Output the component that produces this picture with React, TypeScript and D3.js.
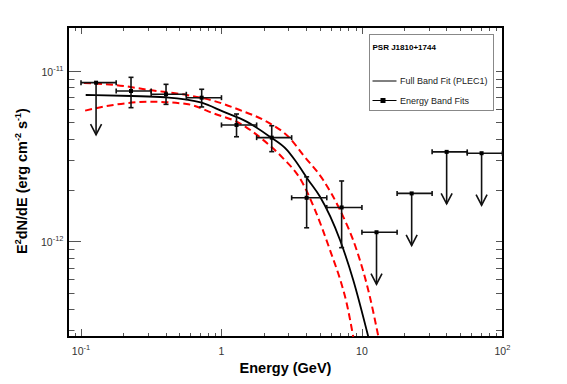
import React, { useEffect, useRef } from "react";
import * as d3 from "d3";

// energy band fits: bin centre, bin edges (GeV), flux and 1 sigma range (erg cm^-2 s^-1)
const bandEnergy = [0.227, 0.403, 0.723, 1.28, 2.28, 4.04, 7.17];
const bandEmin = [0.178, 0.316, 0.562, 1.0, 1.78, 3.16, 5.62];
const bandEmax = [0.316, 0.562, 1.0, 1.78, 3.16, 5.62, 10.0];
const bandFlux = [7.63e-12, 7.3e-12, 6.97e-12, 4.82e-12, 4.06e-12, 1.8e-12, 1.58e-12];
const bandFluxHi = [9.18e-12, 8.35e-12, 7.81e-12, 5.59e-12, 4.77e-12, 2.39e-12, 2.26e-12];
const bandFluxLo = [6.09e-12, 6.37e-12, 6.15e-12, 4.11e-12, 3.36e-12, 1.2e-12, 9.17e-13];

// upper limits
const ulEnergy = [0.128, 12.7, 22.6, 40.1, 71.1];
const ulEmin = [0.1, 10.0, 17.8, 31.6, 56.2];
const ulEmax = [0.178, 17.8, 31.6, 56.2, 100.0];
const ulFlux = [8.54e-12, 1.13e-12, 1.91e-12, 3.35e-12, 3.29e-12];

// full band fit (PLEC1)
const plecEnergy = [0.108, 0.23, 0.396, 0.723, 1.03, 1.51, 2.21, 2.91, 3.33, 4.15, 5.02, 6.97, 8.67, 11.1];
const plecFlux = [7.23e-12, 7.13e-12, 7.01e-12, 6.52e-12, 5.77e-12, 5.04e-12, 4.11e-12, 3.45e-12, 3.0e-12, 2.29e-12, 1.83e-12, 1.02e-12, 5.93e-13, 2.75e-13];

// upper / lower error contour of the fit
const plecHiEnergy = [0.105, 0.175, 0.31, 0.565, 0.874, 1.35, 2.1, 3.07, 3.82, 5.3, 6.97, 9.17, 11.31, 13.1];
const plecHiFlux = [8.5e-12, 8.28e-12, 7.73e-12, 7.23e-12, 6.69e-12, 5.9e-12, 5.04e-12, 4.03e-12, 3.21e-12, 2.29e-12, 1.53e-12, 8.89e-13, 4.84e-13, 2.75e-13];
const plecLoEnergy = [0.107, 0.17, 0.31, 0.565, 0.874, 1.35, 1.98, 2.75, 3.68, 4.63, 5.92, 7.36, 7.69, 8.67];
const plecLoFlux = [5.85e-12, 6.32e-12, 6.6e-12, 6.4e-12, 5.64e-12, 4.93e-12, 3.94e-12, 3.07e-12, 2.29e-12, 1.53e-12, 8.89e-13, 5.18e-13, 4.52e-13, 2.75e-13];

// axes
const xDomain = [0.0808, 101];
const yDomain = [2.74e-13, 1.813e-11];
const xTickValues = [0.1, 1, 10, 100];
const xTickLabels = ["10^-1", "1", "10", "10^2"];
const yTickValues = [1e-12, 1e-11];
const yTickLabels = ["10^-12", "10^-11"];

const legendTitle = "PSR J1810+1744";
const legendFit = "Full Band Fit (PLEC1)";
const legendBands = "Energy Band Fits";

const FONT = "'Liberation Sans', Arial, Helvetica, sans-serif";

const minorTicks = (domain: number[]) => {
  const out: { v: number; major: boolean }[] = [];
  for (let d = -14; d <= 3; d++) {
    for (let m = 1; m <= 9; m++) {
      const v = m * Math.pow(10, d);
      if (v >= domain[0] && v <= domain[1]) out.push({ v, major: m === 1 });
    }
  }
  return out;
};

// writes "10^-1" as 10 with a superscript
const powerLabel = (
  sel: d3.Selection<SVGTextElement, unknown, null, undefined>,
  label: string,
  supSize: number
) => {
  const [base, exp] = label.split("^");
  sel.append("tspan").text(base);
  if (exp) {
    sel.append("tspan").attr("dy", -5).attr("font-size", supSize).text(exp);
  }
};

const App: React.FC = () => {
  const ref = useRef<SVGSVGElement | null>(null);

  useEffect(() => {
    if (!ref.current) return;
    const svg = d3.select(ref.current);
    svg.selectAll("*").remove();

    const frame = { left: 68, right: 503, top: 27, bottom: 337 };
    const x = d3.scaleLog().domain(xDomain).range([frame.left, frame.right]);
    const y = d3.scaleLog().domain(yDomain).range([frame.bottom, frame.top]);

    svg
      .append("defs")
      .append("clipPath")
      .attr("id", "plot-clip")
      .append("rect")
      .attr("x", frame.left)
      .attr("y", frame.top)
      .attr("width", frame.right - frame.left)
      .attr("height", frame.bottom - frame.top);

    // ticks
    const ticks = svg.append("g").attr("stroke", "#555").attr("stroke-width", 1);
    minorTicks(xDomain).forEach(({ v, major }) => {
      const px = Math.round(x(v)) + 0.5;
      ticks.append("line").attr("x1", px).attr("x2", px)
        .attr("y1", frame.bottom).attr("y2", frame.bottom - (major ? 8 : 4));
      ticks.append("line").attr("x1", px).attr("x2", px)
        .attr("y1", frame.top).attr("y2", frame.top + (major ? 7 : 4));
    });
    minorTicks(yDomain).forEach(({ v, major }) => {
      const py = Math.round(y(v)) + 0.5;
      ticks.append("line").attr("y1", py).attr("y2", py)
        .attr("x1", frame.left).attr("x2", frame.left + (major ? 13 : 6.5));
      ticks.append("line").attr("y1", py).attr("y2", py)
        .attr("x1", frame.right).attr("x2", frame.right - 7);
    });

    // frame
    svg
      .append("rect")
      .attr("x", frame.left)
      .attr("y", frame.top)
      .attr("width", frame.right - frame.left)
      .attr("height", frame.bottom - frame.top)
      .attr("fill", "none")
      .attr("stroke", "#000")
      .attr("stroke-width", 2);

    // tick labels
    xTickValues.forEach((v, i) => {
      const t = svg
        .append("text")
        .attr("x", x(v))
        .attr("y", 355)
        .attr("text-anchor", "middle")
        .attr("font-family", FONT)
        .attr("font-size", 10.5)
        .attr("fill", "#333");
      powerLabel(t, xTickLabels[i], 7.5);
    });
    yTickValues.forEach((v, i) => {
      const t = svg
        .append("text")
        .attr("x", 63.5)
        .attr("y", y(v) + 5)
        .attr("text-anchor", "end")
        .attr("font-family", FONT)
        .attr("font-size", 10.5)
        .attr("fill", "#333");
      powerLabel(t, yTickLabels[i], 7.5);
    });

    // axis titles
    svg
      .append("text")
      .attr("x", 285.5)
      .attr("y", 372.5)
      .attr("text-anchor", "middle")
      .attr("font-family", FONT)
      .attr("font-weight", "bold")
      .attr("font-size", 14.5)
      .text("Energy (GeV)");

    const yt = svg
      .append("text")
      .attr("transform", "translate(27,181) rotate(-90)")
      .attr("text-anchor", "middle")
      .attr("font-family", FONT)
      .attr("font-weight", "bold")
      .attr("font-size", 14.5);
    yt.append("tspan").text("E");
    yt.append("tspan").attr("dy", -6).attr("font-size", 9).text("2");
    yt.append("tspan").attr("dy", 6).text("dN/dE (erg cm");
    yt.append("tspan").attr("dy", -6).attr("font-size", 9).text("-2");
    yt.append("tspan").attr("dy", 6).text(" s");
    yt.append("tspan").attr("dy", -6).attr("font-size", 9).text("-1");
    yt.append("tspan").attr("dy", 6).text(")");

    // curves
    const plot = svg.append("g").attr("clip-path", "url(#plot-clip)");
    const line = d3
      .line<[number, number]>()
      .x((d) => x(d[0]))
      .y((d) => y(d[1]))
      .curve(d3.curveMonotoneX);

    const zip = (a: number[], b: number[]) => a.map((v, i) => [v, b[i]] as [number, number]);

    [zip(plecHiEnergy, plecHiFlux), zip(plecLoEnergy, plecLoFlux)].forEach((pts) => {
      plot
        .append("path")
        .attr("d", line(pts))
        .attr("fill", "none")
        .attr("stroke", "#ff0000")
        .attr("stroke-width", 2)
        .attr("stroke-dasharray", "7,4");
    });

    plot
      .append("path")
      .attr("d", line(zip(plecEnergy, plecFlux)))
      .attr("fill", "none")
      .attr("stroke", "#000")
      .attr("stroke-width", 1.8);

    // band points
    const pts = plot.append("g").attr("stroke", "#111").attr("stroke-width", 1.6);
    const cap = 2.5;
    bandEnergy.forEach((e, i) => {
      const cx = x(e);
      const cy = y(bandFlux[i]);
      const x0 = x(bandEmin[i]);
      const x1 = x(bandEmax[i]);
      const y0 = y(bandFluxHi[i]);
      const y1 = y(bandFluxLo[i]);
      pts.append("line").attr("x1", x0).attr("x2", x1).attr("y1", cy).attr("y2", cy);
      pts.append("line").attr("x1", x0).attr("x2", x0).attr("y1", cy - cap).attr("y2", cy + cap);
      pts.append("line").attr("x1", x1).attr("x2", x1).attr("y1", cy - cap).attr("y2", cy + cap);
      pts.append("line").attr("x1", cx).attr("x2", cx).attr("y1", y0).attr("y2", y1);
      pts.append("line").attr("x1", cx - cap).attr("x2", cx + cap).attr("y1", y0).attr("y2", y0);
      pts.append("line").attr("x1", cx - cap).attr("x2", cx + cap).attr("y1", y1).attr("y2", y1);
      pts.append("rect").attr("x", cx - 2).attr("y", cy - 2).attr("width", 4).attr("height", 4)
        .attr("fill", "#000").attr("stroke", "none");
    });

    // upper limits
    ulEnergy.forEach((e, i) => {
      const cx = x(e);
      const cy = y(ulFlux[i]);
      const x0 = x(ulEmin[i]);
      const x1 = x(ulEmax[i]);
      const tip = cy + 52;
      pts.append("line").attr("x1", x0).attr("x2", x1).attr("y1", cy).attr("y2", cy);
      pts.append("line").attr("x1", x0).attr("x2", x0).attr("y1", cy - cap).attr("y2", cy + cap);
      pts.append("line").attr("x1", x1).attr("x2", x1).attr("y1", cy - cap).attr("y2", cy + cap);
      pts.append("line").attr("x1", cx).attr("x2", cx).attr("y1", cy).attr("y2", tip);
      pts
        .append("polyline")
        .attr("points", `${cx - 5.5},${tip - 10.5} ${cx},${tip} ${cx + 5.5},${tip - 10.5}`)
        .attr("fill", "none");
      pts.append("rect").attr("x", cx - 2).attr("y", cy - 2).attr("width", 4).attr("height", 4)
        .attr("fill", "#000").attr("stroke", "none");
    });

    // legend
    const lg = svg.append("g");
    lg.append("rect")
      .attr("x", 369.5)
      .attr("y", 34.5)
      .attr("width", 124)
      .attr("height", 76)
      .attr("fill", "#fff")
      .attr("stroke", "#888")
      .attr("stroke-width", 1);
    lg.append("text")
      .attr("x", 372.5)
      .attr("y", 50)
      .attr("font-family", FONT)
      .attr("font-weight", "bold")
      .attr("font-size", 8)
      .text(legendTitle);
    lg.append("line")
      .attr("x1", 372.5).attr("x2", 396.5).attr("y1", 81).attr("y2", 81)
      .attr("stroke", "#000").attr("stroke-width", 1);
    lg.append("text")
      .attr("x", 400)
      .attr("y", 84)
      .attr("font-family", FONT)
      .attr("font-size", 9)
      .attr("fill", "#222")
      .text(legendFit);
    lg.append("line")
      .attr("x1", 372.5).attr("x2", 396.5).attr("y1", 100.5).attr("y2", 100.5)
      .attr("stroke", "#000").attr("stroke-width", 1);
    lg.append("rect")
      .attr("x", 380.5).attr("y", 98).attr("width", 5).attr("height", 5).attr("fill", "#000");
    lg.append("text")
      .attr("x", 400)
      .attr("y", 103.5)
      .attr("font-family", FONT)
      .attr("font-size", 9)
      .attr("fill", "#222")
      .text(legendBands);
  }, []);

  return (
    <div style={{ position: "absolute", left: 0, top: 0 }}>
      <svg ref={ref} width={567} height={384} style={{ display: "block", background: "#fff" }} />
    </div>
  );
};

export default App;
